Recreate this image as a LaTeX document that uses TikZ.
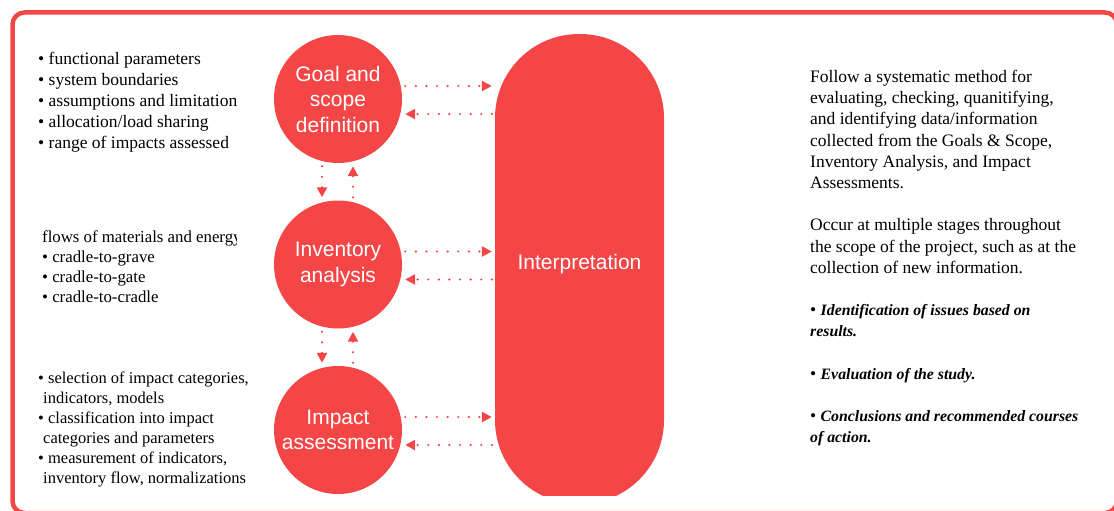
\documentclass[tikz,border=0pt]{standalone}
\usepackage{fontspec}
\setmainfont{Liberation Serif}
\setsansfont{Liberation Sans}
\usetikzlibrary{arrows.meta}
\definecolor{lcared}{RGB}{244,70,70}
\newcommand{\keytext}[1]{{\fontsize{15.8}{21.2}\selectfont\bfseries\itshape #1}}

\begin{document}
\begin{tikzpicture}[x=1pt, y=-1pt,
  stage/.style={circle, fill=lcared, minimum size=128pt, inner sep=0pt, text=white,
    align=center, font=\sffamily\fontsize{21}{25.5}\selectfont},
  link/.style={lcared, line width=2.4pt, line cap=round, dash pattern=on 0pt off 10.6pt,
    -{Triangle[length=10pt,width=10pt]}, shorten <=3pt, shorten >=3pt},
  notes/.style={anchor=north west, inner sep=0pt, align=left, font=\fontsize{17.5}{21}\selectfont}]
  \useasboundingbox (0,0) rectangle (1114,511);
  % Frame
  \draw[lcared, line width=4.5pt, rounded corners=12pt] (12.5,12.5) rectangle (1117,513);

  % Stages
  \begin{scope}
    \clip (0,0) rectangle (1114,495);
    \node[stage] (goal) at (338,99) {Goal and\\scope\\definition};
    \node[stage] (inv) at (338,264.5) {Inventory\\analysis};
    \node[stage] (imp) at (338,430) {Impact\\assessment};
    \node[stage, rectangle, rounded corners=84pt, minimum width=169pt, minimum height=470pt,
      text height=0pt, text depth=0pt] (interp) at (579.5,269) {Interpretation};
  \end{scope}

  % Links to interpretation
  \foreach \s in {goal, inv, imp} {
    \coordinate (out) at ([yshift=13pt]\s.east);
    \coordinate (back) at ([yshift=-15pt]\s.east);
    \draw[link] (out) -- (out -| interp.west);
    \draw[link] (back -| interp.west) -- (back);
  }
  % Links between stages
  \foreach \a/\b in {goal/inv, inv/imp} {
    \draw[link] ([xshift=-16pt]\a.south) -- ([xshift=-16pt]\b.north);
    \draw[link] ([xshift=15pt]\b.north) -- ([xshift=15pt]\a.south);
  }

  % Notes on the left
  \node[notes] (scopenotes) at (38,52) {\textbullet{} functional parameters\\
    \textbullet{} system boundaries\\
    \textbullet{} assumptions and limitation\\
    \textbullet{} allocation/load sharing\\
    \textbullet{} range of impacts assessed};
  \begin{scope}
    \clip (0,200) rectangle (236,320);
    \node[notes, font=\fontsize{16.8}{20}\selectfont] (invnotes) at (42,230.5) {flows of materials and energy\\
      \textbullet{} cradle-to-grave\\
      \textbullet{} cradle-to-gate\\
      \textbullet{} cradle-to-cradle};
  \end{scope}
  \node[notes, font=\fontsize{16.5}{20}\selectfont] (impnotes) at (38,372) {\textbullet{} selection of impact categories,\\
    \hspace*{5pt}indicators, models\\
    \textbullet{} classification into impact\\
    \hspace*{5pt}categories and parameters\\
    \textbullet{} measurement of indicators,\\
    \hspace*{5pt}inventory flow, normalizations};

  % Notes on the right
  \node[notes, font=\fontsize{17.5}{21.2}\selectfont] (interpnotes) at (810,70) {Follow a systematic method for\\
    evaluating, checking, quanitifying,\\
    and identifying data/information\\
    collected from the Goals \& Scope,\\
    Inventory Analysis, and Impact\\
    Assessments.\\[21.2pt]
    Occur at multiple stages throughout\\
    the scope of the project, such as at the\\
    collection of new information.\\[21.2pt]
    \textbullet{} \keytext{Identification of issues based on}\\
    \keytext{results.}\\[21.2pt]
    \textbullet{} \keytext{Evaluation of the study.}\\[21.2pt]
    \textbullet{} \keytext{Conclusions and recommended courses}\\
    \keytext{of action.}};
\end{tikzpicture}
\end{document}
